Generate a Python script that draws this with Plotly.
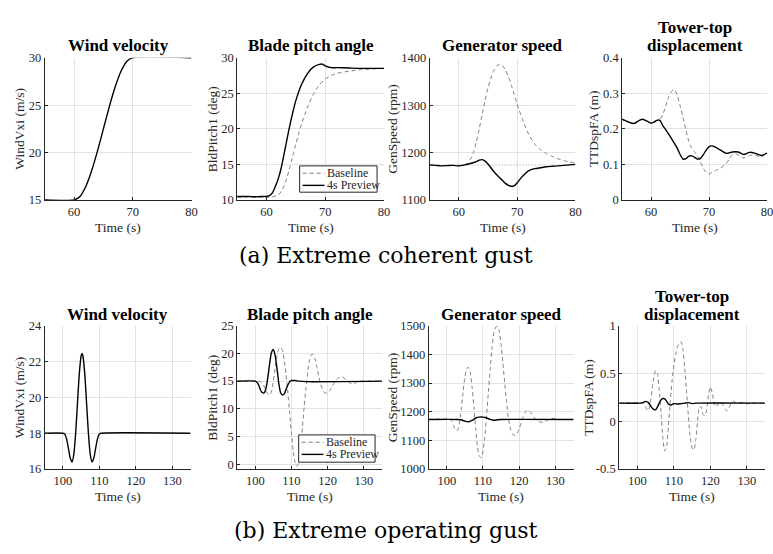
import plotly.graph_objects as go

# ---------------- (a) Extreme coherent gust ----------------
ecg_wind_t = [55, 60, 61, 62, 63, 64, 65, 66, 67, 68, 69, 70, 80]
ecg_wind = [15, 15, 15.37, 16.43, 18.09, 20.18, 22.5, 24.82, 26.91, 28.57, 29.63, 30, 30]

ecg_pitch_prev_t = [55, 56, 57, 58, 59, 60, 60.5, 61, 61.5, 62, 62.5, 63, 63.5, 64, 64.5, 65, 66, 67, 68, 69,
                    69.5, 70, 71, 72, 74, 76, 78, 80]
ecg_pitch_prev = [10.5, 10.5, 10.5, 10.45, 10.5, 10.5, 10.6, 11.0, 11.9, 13.0, 14.5, 16.5, 18.6, 20.6, 22.4, 24.0,
                  26.3, 27.8, 28.7, 29.05, 29.1, 28.85, 28.6, 28.6, 28.55, 28.5, 28.5, 28.5]
ecg_pitch_base_t = [55, 60, 61, 62, 62.5, 63, 63.5, 64, 64.5, 65, 65.5, 66, 66.5, 67, 68, 69, 70, 71, 72, 74, 76,
                    78, 80]
ecg_pitch_base = [10.4, 10.4, 10.45, 10.7, 11.2, 12.0, 13.2, 14.7, 16.3, 17.9, 19.4, 20.8, 22.0, 23.1, 24.9, 26.2,
                  27.0, 27.5, 27.8, 28.1, 28.3, 28.4, 28.5]

ecg_gen_base_t = [55, 58, 60, 61, 61.5, 62, 62.5, 63, 63.5, 64, 64.5, 65, 65.5, 66, 66.5, 67, 67.5, 68, 68.5, 69,
                  69.5, 70, 71, 72, 73, 74, 75, 76, 77, 78, 79, 80]
ecg_gen_base = [1173, 1173, 1173, 1174, 1178, 1186, 1200, 1222, 1250, 1280, 1310, 1336, 1357, 1373, 1383, 1386,
                1383, 1374, 1360, 1342, 1322, 1302, 1267, 1238, 1218, 1206, 1198, 1192, 1187, 1183, 1180, 1178]
ecg_gen_prev_t = [55, 56, 57, 58, 59, 60, 61, 62, 63, 63.5, 64, 64.5, 65, 65.5, 66, 66.5, 67, 67.5, 68, 68.5, 69,
                  69.5, 70, 70.5, 71, 71.5, 72, 73, 74, 75, 76, 77, 78, 79, 80]
ecg_gen_prev = [1174, 1173, 1172, 1172.5, 1173, 1172, 1174, 1177, 1181, 1184, 1185, 1182, 1176, 1168, 1160, 1153,
                1147, 1141, 1135, 1131, 1129, 1130, 1136, 1144, 1151, 1157, 1162, 1166, 1168, 1170, 1171, 1172,
                1173, 1174, 1175]
ecg_gen_rated_t = [55, 80]
ecg_gen_rated = [1173.7, 1173.7]

ecg_ttd_prev_t = [55, 56, 57, 58, 58.5, 59, 60, 60.5, 61, 61.5, 62, 62.5, 63, 63.5, 64, 64.5, 65, 65.5, 66, 66.5,
                  67, 67.5, 68, 68.5, 69, 69.5, 70, 70.5, 71, 72, 73, 74, 75, 76, 77, 78, 79, 80]
ecg_ttd_prev = [0.227, 0.220, 0.215, 0.224, 0.227, 0.224, 0.216, 0.219, 0.224, 0.224, 0.21, 0.198, 0.186, 0.173,
                0.16, 0.146, 0.128, 0.115, 0.116, 0.123, 0.124, 0.12, 0.115, 0.117, 0.127, 0.14, 0.15, 0.152,
                0.149, 0.14, 0.131, 0.135, 0.135, 0.128, 0.134, 0.131, 0.125, 0.132]
ecg_ttd_base_t = [55, 56, 57, 58, 58.5, 59, 60, 60.5, 61, 61.5, 62, 62.5, 63, 63.5, 64, 64.5, 65, 65.5, 66, 66.5,
                  67, 67.5, 68, 68.5, 69, 69.5, 70, 70.5, 71, 72, 73, 73.5, 74, 74.5, 75, 76, 77, 78, 79, 80]
ecg_ttd_base = [0.227, 0.220, 0.215, 0.224, 0.227, 0.224, 0.216, 0.219, 0.224, 0.226, 0.24, 0.262, 0.288, 0.305,
                0.311, 0.295, 0.265, 0.232, 0.197, 0.165, 0.145, 0.135, 0.124, 0.107, 0.09, 0.077, 0.073, 0.077,
                0.082, 0.09, 0.103, 0.115, 0.127, 0.13, 0.127, 0.118, 0.125, 0.126, 0.121, 0.132]

# ---------------- (b) Extreme operating gust ----------------
eog_wind_t = [95, 100, 100.5, 101, 101.5, 102, 102.5, 103, 103.5, 104, 104.5, 105, 105.25, 105.5, 106, 106.5,
              107, 107.5, 108, 108.5, 109, 109.5, 110, 110.5, 135]
eog_wind = [18, 18, 17.96, 17.70, 17.18, 16.62, 16.39, 16.82, 18.0, 19.67, 21.31, 22.31, 22.45, 22.31, 21.31,
            19.67, 18.0, 16.82, 16.39, 16.62, 17.18, 17.70, 17.96, 18, 18]

eog_pitch_prev_t = [95, 100, 100.5, 101, 101.5, 102, 102.5, 103, 103.5, 104, 104.5, 105, 105.5, 106, 106.5, 107,
                    107.5, 108, 108.5, 109, 109.5, 110, 111, 112, 114, 135]
eog_pitch_prev = [15, 15, 14.8, 14.2, 13.3, 12.9, 12.9, 13.8, 15.8, 18.3, 20.2, 20.7, 19.6, 17.3, 14.6, 12.9,
                  12.5, 12.7, 13.5, 14.3, 14.9, 15.1, 15.1, 15.0, 14.9, 15.0]
eog_pitch_base_t = [95, 101, 101.5, 102, 102.5, 103, 103.5, 104, 104.5, 105, 105.5, 106, 106.5, 107, 107.5, 108,
                    108.5, 109, 109.5, 110, 110.5, 111, 111.5, 112, 112.5, 113, 113.5, 114, 114.5, 115, 115.5,
                    116, 116.5, 117, 117.5, 118, 118.5, 119, 119.5, 120, 120.5, 121, 122, 123, 124, 125, 126, 127,
                    128, 129, 130, 135]
eog_pitch_base = [15, 15, 14.9, 14.6, 14.0, 13.2, 12.6, 12.5, 13.2, 15.0, 17.5, 19.6, 20.8, 21.1, 20.6, 18.8,
                  16.2, 13.0, 9.2, 5.5, 2.3, 0.3, -0.4, 0.5, 3.0, 6.5, 10.3, 13.8, 16.8, 18.8, 19.8, 19.8, 19.0,
                  17.6, 16.0, 14.6, 13.6, 13.0, 12.8, 12.9, 13.2, 13.8, 14.9, 15.6, 15.8, 15.3, 14.7, 14.5, 14.8,
                  15.0, 15.0, 15.0]

eog_gen_base_t = [95, 101, 101.5, 102, 102.5, 103, 103.5, 104, 104.5, 105, 105.5, 106, 106.5, 107, 107.5, 108,
                  108.5, 109, 109.5, 110, 110.5, 111, 111.5, 112, 112.5, 113, 113.5, 114, 114.5, 115, 115.5, 116,
                  116.5, 117, 117.5, 118, 118.5, 119, 119.5, 120, 120.5, 121, 121.5, 122, 122.5, 123, 123.5, 124,
                  125, 126, 127, 128, 129, 130, 131, 135]
eog_gen_base = [1173, 1173, 1165, 1148, 1135, 1135, 1160, 1210, 1270, 1320, 1350, 1355, 1335, 1285, 1215, 1140,
                1075, 1045, 1040, 1060, 1110, 1185, 1270, 1350, 1425, 1475, 1495, 1497, 1480, 1435, 1370, 1300,
                1235, 1180, 1145, 1125, 1118, 1118, 1125, 1140, 1160, 1180, 1195, 1203, 1205, 1200, 1192, 1182,
                1168, 1163, 1165, 1172, 1177, 1175, 1173, 1173]
eog_gen_prev_t = [95, 103, 104, 105, 106, 107, 108, 109, 110, 111, 112, 113, 114, 115, 135]
eog_gen_prev = [1173, 1173, 1172, 1167, 1165, 1170, 1178, 1181, 1181, 1178, 1173, 1170, 1172, 1173, 1173]

eog_ttd_prev_t = [95, 101, 101.5, 102, 102.5, 103, 103.5, 104, 104.5, 105, 105.5, 106, 106.5, 107, 107.5, 108,
                  108.5, 109, 109.5, 110, 111, 112, 113, 114, 115, 116, 135]
eog_ttd_prev = [0.19, 0.19, 0.195, 0.205, 0.205, 0.195, 0.17, 0.14, 0.125, 0.12, 0.15, 0.19, 0.225, 0.238, 0.235,
                0.21, 0.18, 0.17, 0.175, 0.185, 0.18, 0.185, 0.19, 0.195, 0.185, 0.19, 0.19]
eog_ttd_base_t = [95, 101.5, 102, 102.5, 103, 103.5, 104, 104.5, 105, 105.5, 106, 106.5, 107, 107.5, 108, 108.5,
                  109, 109.5, 110, 110.5, 111, 111.5, 112, 112.5, 113, 113.5, 114, 114.5, 115, 115.5, 116, 116.5,
                  117, 117.5, 118, 118.5, 119, 119.5, 120, 120.5, 121, 121.5, 122, 122.5, 123, 123.5, 124, 124.5,
                  125, 125.5, 126, 126.5, 127, 128, 129, 130, 131, 135]
eog_ttd_base = [0.19, 0.19, 0.17, 0.13, 0.11, 0.18, 0.32, 0.46, 0.53, 0.5, 0.33, 0.08, -0.18, -0.31, -0.27, -0.05,
                0.2, 0.42, 0.58, 0.7, 0.78, 0.82, 0.83, 0.75, 0.55, 0.3, 0.05, -0.17, -0.28, -0.3, -0.2, 0.0,
                0.15, 0.15, 0.07, 0.06, 0.12, 0.28, 0.36, 0.3, 0.2, 0.15, 0.17, 0.2, 0.2, 0.17, 0.13, 0.11, 0.13,
                0.17, 0.2, 0.21, 0.19, 0.19, 0.2, 0.18, 0.19, 0.19]

titles_a = ["Wind velocity", "Blade pitch angle", "Generator speed", ["Tower-top", "displacement"]]
titles_b = ["Wind velocity", "Blade pitch angle", "Generator speed", ["Tower-top", "displacement"]]
ylabels = ["WindVxi (m/s)", "BldPitch1 (deg)", "GenSpeed (rpm)", "TTDspFA (m)"]
xlabel = "Time (s)"
legend_names = ["Baseline", "4s Preview"]
captions = ["(a) Extreme coherent gust", "(b) Extreme operating gust"]

# ---------------- layout helpers ----------------
W, H = 773, 554
SERIF = "Liberation Serif, Times New Roman, Tinos, Times, serif"
CAPF = "DejaVu Serif, serif"
AX = "#262626"
GRID = "#e2e2e2"
BASE_C = "#808080"


def fx(p):
    return p / W


def fy(p):
    return 1 - p / H


# pixel boxes of the 8 panels: (x0, x1, ytop, ybottom)
boxes = [(45, 193, 52, 198), (239, 387, 52, 198), (433, 580, 52, 198), (627, 773, 52, 198),
         (45, 192, 327, 474), (239, 385, 327, 474), (432, 578, 327, 474), (624, 771, 327, 474)]
xranges = [[55, 80]] * 4 + [[95, 135]] * 4
yranges = [[15, 30], [10, 30], [1100, 1400], [0, 0.4],
           [16, 24], [-0.88, 25], [1000, 1500], [-0.5, 1]]
ydticks = [5, 5, 100, 0.1, 2, 5, 100, 0.5]

fig = go.Figure()

series = [
    (0, [(ecg_wind_t, ecg_wind, "solid")]),
    (1, [(ecg_pitch_base_t, ecg_pitch_base, "base"), (ecg_pitch_prev_t, ecg_pitch_prev, "solid")]),
    (2, [(ecg_gen_rated_t, ecg_gen_rated, "dot"), (ecg_gen_base_t, ecg_gen_base, "base"),
         (ecg_gen_prev_t, ecg_gen_prev, "solid")]),
    (3, [(ecg_ttd_base_t, ecg_ttd_base, "base"), (ecg_ttd_prev_t, ecg_ttd_prev, "solid")]),
    (4, [(eog_wind_t, eog_wind, "solid")]),
    (5, [(eog_pitch_base_t, eog_pitch_base, "base"), (eog_pitch_prev_t, eog_pitch_prev, "solid")]),
    (6, [(eog_gen_base_t, eog_gen_base, "base"), (eog_gen_prev_t, eog_gen_prev, "solid")]),
    (7, [(eog_ttd_base_t, eog_ttd_base, "base"), (eog_ttd_prev_t, eog_ttd_prev, "solid")]),
]

for i, lst in series:
    xa = "x" if i == 0 else f"x{i + 1}"
    ya = "y" if i == 0 else f"y{i + 1}"
    for t, v, kind in lst:
        if kind == "solid":
            line = dict(color="black", width=1.4, shape="spline", smoothing=0.6)
        elif kind == "base":
            line = dict(color=BASE_C, width=1, dash="4px,3px", shape="spline", smoothing=0.6)
        else:
            line = dict(color="#9a9a9a", width=1, dash="1px,2px")
        fig.add_trace(go.Scatter(x=t, y=v, mode="lines", line=line, xaxis=xa, yaxis=ya,
                                 showlegend=False, hoverinfo="skip"))

layout = dict(width=W, height=H, margin=dict(l=0, r=0, t=0, b=0), paper_bgcolor="white",
              plot_bgcolor="white", showlegend=False, font=dict(family=SERIF))

for i, (x0, x1, yt, yb) in enumerate(boxes):
    xk = "xaxis" if i == 0 else f"xaxis{i + 1}"
    yk = "yaxis" if i == 0 else f"yaxis{i + 1}"
    xa = "x" if i == 0 else f"x{i + 1}"
    ya = "y" if i == 0 else f"y{i + 1}"
    common = dict(showline=True, linecolor=AX, linewidth=1, mirror=False, ticks="inside", ticklen=3,
                  tickcolor=AX, tickwidth=1, showgrid=True, gridcolor=GRID, gridwidth=1, zeroline=False,
                  tickfont=dict(family=SERIF, size=12.5, color=AX), fixedrange=True)
    layout[xk] = dict(common, domain=[fx(x0), fx(x1)], range=xranges[i], dtick=10, tick0=0, anchor=ya,
                      ticklabeloverflow="allow")
    yax = dict(common, domain=[fy(yb), fy(yt)], range=yranges[i], dtick=ydticks[i], tick0=0, anchor=xa)
    if i == 7:
        yax.update(tickmode="array", tickvals=[-0.5, 0, 0.5, 1], ticktext=["-0.5", "0", "0.5", "1"])
    layout[yk] = yax

fig.update_layout(**layout)

ann = []
shapes = []


def add_text(text, xp, yp, size, bold=False, angle=0, family=SERIF, color="black", xanchor="center"):
    ann.append(dict(text=f"<b>{text}</b>" if bold else text, x=fx(xp), y=fy(yp), xref="paper", yref="paper",
                    showarrow=False, xanchor=xanchor, yanchor="middle", textangle=angle,
                    font=dict(family=family, size=size, color=color)))


# panel titles
for r, (titles, ty) in enumerate([(titles_a, 40), (titles_b, 315)]):
    for c, ttl in enumerate(titles):
        x0, x1, yt, yb = boxes[r * 4 + c]
        cx = (x0 + x1) / 2
        if isinstance(ttl, list):
            add_text(ttl[0], cx, ty - 18.5, 17, bold=True)
            add_text(ttl[1], cx, ty, 17, bold=True)
        else:
            add_text(ttl, cx, ty, 17, bold=True)

# axis titles
ylab_x = [[20, 215, 396, 598], [20, 214, 395, 593]]
for r in range(2):
    for c in range(4):
        x0, x1, yt, yb = boxes[r * 4 + c]
        add_text(ylabels[c], ylab_x[r][c], (yt + yb) / 2, 13.5, angle=-90, color=AX)
        add_text(xlabel, (x0 + x1) / 2, yb + 28, 13.5, color=AX)

# captions
add_text(captions[0], 389.5, 255, 22, family=CAPF)
add_text(captions[1], 389.5, 537, 22, family=CAPF)

# legends (inside the pitch panels)
for (bx0, by0, bx1, by1) in [(302, 163, 380, 190), (301, 439, 378, 467)]:
    shapes.append(dict(type="rect", xref="paper", yref="paper", x0=fx(bx0), x1=fx(bx1), y0=fy(by1), y1=fy(by0),
                       line=dict(color=AX, width=1), fillcolor="white", layer="above"))
    ys = [by0 + 7.5, by0 + 20]
    shapes.append(dict(type="line", xref="paper", yref="paper", x0=fx(bx0 + 3), x1=fx(bx0 + 25), y0=fy(ys[0]),
                       y1=fy(ys[0]), line=dict(color=BASE_C, width=1, dash="4px,3px"), layer="above"))
    shapes.append(dict(type="line", xref="paper", yref="paper", x0=fx(bx0 + 3), x1=fx(bx0 + 25), y0=fy(ys[1]),
                       y1=fy(ys[1]), line=dict(color="black", width=1.4), layer="above"))
    add_text(legend_names[0], bx0 + 26, ys[0], 12, color=AX, xanchor="left")
    add_text(legend_names[1], bx0 + 26, ys[1], 12, color=AX, xanchor="left")

fig.update_layout(annotations=ann, shapes=shapes)
fig.write_html("out.html", config={"displayModeBar": False},
               post_script="document.body.style.margin='0';document.body.style.overflow='hidden';")
